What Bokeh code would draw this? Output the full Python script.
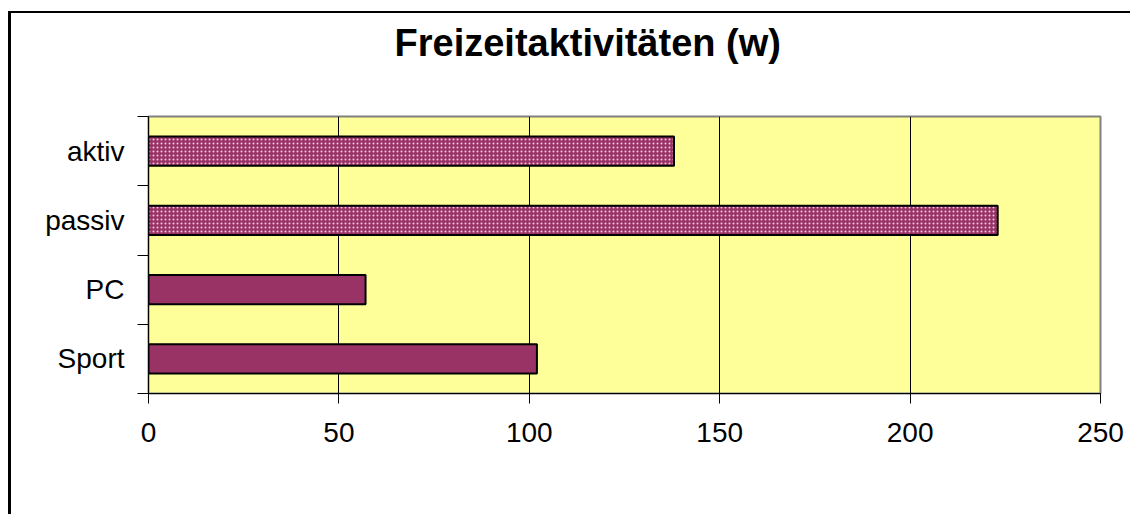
from bokeh.plotting import figure
from bokeh.models import FixedTicker, Range1d, Title, LinearAxis
from bokeh.embed import file_html
from bokeh.resources import INLINE

# ---- data ----
categories = ["Sport", "PC", "passiv", "aktiv"]
values = [102, 57, 223, 138]
patterned = [False, False, True, True]
x_ticks = [0, 50, 100, 150, 200, 250]
title_text = "Freizeitaktivitäten (w)"

positions = [i + 0.5 for i in range(len(categories))]
boundaries = [float(i) for i in range(len(categories) + 1)]

FONT = "Liberation Sans"

p = figure(width=1122, height=503, output_backend="svg", toolbar_location=None,
           title=None,
           x_range=Range1d(0, 250), y_range=Range1d(0, len(categories)),
           min_border_left=137, min_border_right=33,
           min_border_top=103, min_border_bottom=123)
p.styles = {"border-top": "2px solid black", "border-left": "3px solid black",
            "margin-top": "11px", "margin-left": "8px"}

p.background_fill_color = "#FFFF99"
p.border_fill_color = "white"
p.outline_line_color = "#808080"
p.outline_line_width = 2

# invisible spacer axis between frame and title
spacer = LinearAxis(ticker=FixedTicker(ticks=[0], minor_ticks=[]),
                    axis_line_color=None,
                    major_tick_line_color=None, minor_tick_line_color=None,
                    major_tick_out=53, major_tick_in=0, major_label_standoff=0,
                    major_label_overrides={0: ""})
p.add_layout(spacer, "above")

title = Title(text=title_text, text_font=FONT, text_font_style="bold",
              text_font_size="38px", text_color="black", align="left",
              offset=246, standoff=0, vertical_align="bottom")
p.add_layout(title, "above")

# bars
solid_y = [pos for pos, pt in zip(positions, patterned) if not pt]
solid_v = [v for v, pt in zip(values, patterned) if not pt]
hat_y = [pos for pos, pt in zip(positions, patterned) if pt]
hat_v = [v for v, pt in zip(values, patterned) if pt]

p.hbar(y=solid_y, right=solid_v, left=0, height=0.42, fill_color="#993366",
       line_color="black", line_width=2)
p.hbar(y=hat_y, right=hat_v, left=0, height=0.42, fill_color="#993366",
       line_color="black", line_width=2, hatch_pattern="dot",
       hatch_color="#F2C6E6", hatch_scale=4, hatch_weight=1)

# x axis (below)
xa = p.below[0]
xa.ticker = FixedTicker(ticks=x_ticks)
xa.major_tick_out = 10
xa.major_tick_in = 0
xa.minor_tick_line_color = None
xa.axis_line_color = "black"
xa.major_tick_line_color = "black"
xa.major_label_text_font = FONT
xa.major_label_text_font_size = "28px"
xa.major_label_text_color = "black"
xa.major_label_standoff = 19

# y axis
ya = p.left[0]
ya.ticker = FixedTicker(ticks=positions, minor_ticks=boundaries)
ya.major_label_overrides = {pos: c for pos, c in zip(positions, categories)}
ya.major_tick_out = 0
ya.major_tick_in = 0
ya.minor_tick_out = 11
ya.minor_tick_in = 0
ya.minor_tick_line_color = "black"
ya.axis_line_color = "black"
ya.major_label_text_font = FONT
ya.major_label_text_font_size = "28px"
ya.major_label_text_color = "black"
ya.major_label_standoff = 13

# grid
p.xgrid.ticker = FixedTicker(ticks=x_ticks)
p.xgrid.grid_line_color = "black"
p.xgrid.grid_line_width = 1
p.ygrid.grid_line_color = None

open("out.html", "w").write(file_html(p, INLINE))
